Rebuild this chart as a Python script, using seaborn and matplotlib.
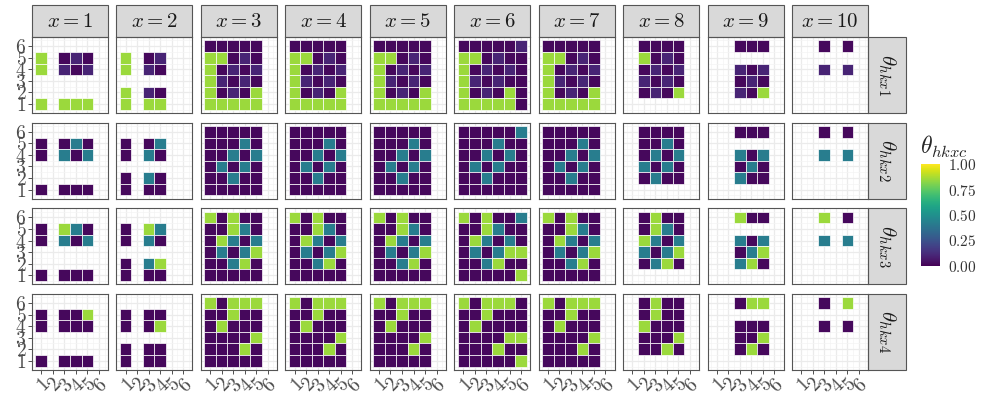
import matplotlib
matplotlib.use("Agg")
import matplotlib.pyplot as plt
import seaborn as sns
import pandas as pd
import numpy as np
from matplotlib.patches import Rectangle

sns.set_theme(style="white")
plt.rcParams["mathtext.fontset"] = "cm"
plt.rcParams["font.family"] = ["DejaVu Serif"]

# shade codes: d = dark purple, m = lighter purple,
# t = teal, g = green, "." = no tile. Rows listed from k=6 (top) to k=1.
levels = {"d": 0.02, "m": 0.10, "t": 0.42, "g": 0.85}

c1_x1 = ["......", "g.dmd.", "g.mdm.", "......", "......", "g.ggg."]
c1_x2 = ["......", "g.dm..", "g.md..", "......", "g.md..", "g.gg.."]
c1_x3 = ["ddddd.", "ggdmd.", "gdmdm.", "gmdmd.", "gdmdg.", "ggggg."]
c1_x6 = ["dddddm", "ggdmdd", "gdmdmd", "gmdmdd", "gdmdgd", "gggggd"]
c1_x8 = [".dddd.", ".gdmd.", ".dmdm.", ".mdmd.", ".dmdg.", "......"]
c1_x9 = ["..ddd.", "......", "..mdm.", "..dmd.", "..mdg.", "......"]
c1_x10 = ["..d.d.", "......", "..m.m.", "......", "......", "......"]

c2_x1 = ["......", "d.dtd.", "d.tdt.", "......", "......", "d.ddd."]
c2_x2 = ["......", "d.dt..", "d.td..", "......", "d.td..", "d.dd.."]
c2_x3 = ["ddddd.", "dddtd.", "ddtdt.", "dtdtd.", "ddtdd.", "ddddd."]
c2_x6 = ["dddddt", "dddtdd", "ddtdtd", "dtdtdd", "ddtddd", "dddddd"]
c2_x8 = [".dddd.", ".ddtd.", ".dtdt.", ".tdtd.", ".dtdd.", "......"]
c2_x9 = ["..ddd.", "......", "..tdt.", "..dtd.", "..tdd.", "......"]
c2_x10 = ["..d.d.", "......", "..t.t.", "......", "......", "......"]

c3_x1 = ["......", "d.gtd.", "d.tdt.", "......", "......", "d.ddd."]
c3_x2 = ["......", "d.gt..", "d.td..", "......", "d.tg..", "d.dd.."]
c3_x3 = ["gdgdd.", "ddgtd.", "dgtdt.", "dtdtg.", "ddtgd.", "ddddd."]
c3_x6 = ["gdgddt", "ddgtdd", "dgtdtd", "dtdtgg", "ddtgdd", "dddddg"]
c3_x8 = [".dgdd.", ".dgtd.", ".gtdt.", ".tdtg.", ".dtgd.", "......"]
c3_x9 = ["..gdd.", "......", "..tdt.", "..dtg.", "..tgd.", "......"]
c3_x10 = ["..g.d.", "......", "..t.t.", "......", "......", "......"]

c4_x1 = ["......", "d.ddg.", "d.ddd.", "......", "......", "d.ddd."]
c4_x2 = ["......", "d.dd..", "d.dg..", "......", "d.dd..", "d.dd.."]
c4_x3 = ["gdggg.", "ddgdd.", "dgddd.", "ddddg.", "dddgd.", "ddddd."]
c4_x6 = ["gdgggd", "ddgddd", "dgdddd", "ddddgg", "dddgdd", "dddddg"]
c4_x8 = [".dgdd.", ".dgdd.", ".gddd.", ".dddg.", ".ddgd.", "......"]
c4_x9 = ["..dgg.", "......", "..ddd.", "..ddg.", "..dgd.", "......"]
c4_x10 = ["..d.g.", "......", "..d.d.", "......", "......", "......"]

panels = {
    1: [c1_x1, c1_x2, c1_x3, c1_x3, c1_x3, c1_x6, c1_x3, c1_x8, c1_x9, c1_x10],
    2: [c2_x1, c2_x2, c2_x3, c2_x3, c2_x3, c2_x6, c2_x3, c2_x8, c2_x9, c2_x10],
    3: [c3_x1, c3_x2, c3_x3, c3_x3, c3_x3, c3_x6, c3_x3, c3_x8, c3_x9, c3_x10],
    4: [c4_x1, c4_x2, c4_x3, c4_x3, c4_x3, c4_x6, c4_x3, c4_x8, c4_x9, c4_x10],
}

rows = []
for c, grids in panels.items():
    for x, grid in enumerate(grids, start=1):
        for i, line in enumerate(grid):
            k = 6 - i
            for h, code in enumerate(line, start=1):
                if code != ".":
                    rows.append({"c": c, "x": x, "h": h, "k": k, "theta": levels[code]})
df = pd.DataFrame(rows)

cmap = plt.get_cmap("viridis")
norm = plt.Normalize(0, 1)


def draw_tiles(data, **kws):
    ax = plt.gca()
    ax.bar(data["h"], 1.0, bottom=data["k"] - 0.5, width=1.0,
           color=cmap(norm(data["theta"].values)), edgecolor="white",
           linewidth=0.5, zorder=2)


g = sns.FacetGrid(df, row="c", col="x", height=0.8, aspect=1,
                  sharex=True, sharey=True, despine=False)
g.map_dataframe(draw_tiles)
fig = g.figure
fig.set_size_inches(9.97, 3.99)
fig.subplots_adjust(left=32 / 997, right=868 / 997, top=1 - 37 / 399,
                    bottom=1 - 370 / 399, wspace=8.4 / 76, hspace=9.5 / 76)

ticks = [1, 2, 3, 4, 5, 6]
for (ri, ci), ax in np.ndenumerate(g.axes):
    ax.set_xlim(0.2, 6.8)
    ax.set_ylim(0.2, 6.8)
    ax.set_xticks(ticks)
    ax.set_yticks(ticks)
    ax.set_xticks(np.arange(0.5, 7, 1), minor=True)
    ax.set_yticks(np.arange(0.5, 7, 1), minor=True)
    ax.grid(which="major", color="#EBEBEB", linewidth=0.9)
    ax.grid(which="minor", color="#F4F4F4", linewidth=0.5)
    ax.set_axisbelow(True)
    ax.set_facecolor("white")
    ax.set_title("")
    ax.set_xlabel("")
    ax.set_ylabel("")
    for s in ax.spines.values():
        s.set_color("#555555")
        s.set_linewidth(0.8)
    ax.tick_params(which="minor", length=0)
    left = ci == 0
    bottom = ri == 3
    ax.tick_params(which="major", left=left, bottom=bottom, labelleft=left,
                   labelbottom=bottom, length=3, width=0.6, color="#333333",
                   pad=1)
    if left:
        ax.set_yticklabels([f"${t}$" for t in ticks], fontsize=14,
                           color="#4D4D4D")
    if bottom:
        ax.set_xticklabels([f"${t}$" for t in ticks], fontsize=14,
                           color="#4D4D4D", rotation=45, ha="right",
                           rotation_mode="anchor")
    if ri == 0:
        ax.add_patch(Rectangle((0, 1.0), 1, 0.42, transform=ax.transAxes,
                               clip_on=False, facecolor="#D9D9D9",
                               edgecolor="#555555", linewidth=0.8))
        ax.text(0.5, 1.21, f"$x = {ci + 1}$", transform=ax.transAxes,
                ha="center", va="center", fontsize=15, color="#1A1A1A")
    if ci == 9:
        ax.add_patch(Rectangle((1.0, 0), 0.5, 1, transform=ax.transAxes,
                               clip_on=False, facecolor="#D9D9D9",
                               edgecolor="#555555", linewidth=0.8))
        ax.text(1.25, 0.5, rf"$\theta_{{hkx{ri + 1}}}$", transform=ax.transAxes,
                ha="center", va="center", rotation=-90, fontsize=15,
                color="#1A1A1A")

cax = fig.add_axes([921 / 997, 1 - 266 / 399, 19 / 997, 102 / 399])
cb = fig.colorbar(plt.cm.ScalarMappable(norm=norm, cmap=cmap), cax=cax,
                  ticks=[0, 0.25, 0.5, 0.75, 1.0])
cb.outline.set_visible(False)
cb.ax.set_yticklabels(["$0.00$", "$0.25$", "$0.50$", "$0.75$", "$1.00$"],
                      fontsize=11, color="#333333")
cb.ax.tick_params(length=3, width=0.6, color="white", pad=3)
fig.text(920 / 997, 1 - 160 / 399, r"$\theta_{hkxc}$", fontsize=17,
         ha="left", va="bottom")

fig.savefig("out.png", dpi=100)
